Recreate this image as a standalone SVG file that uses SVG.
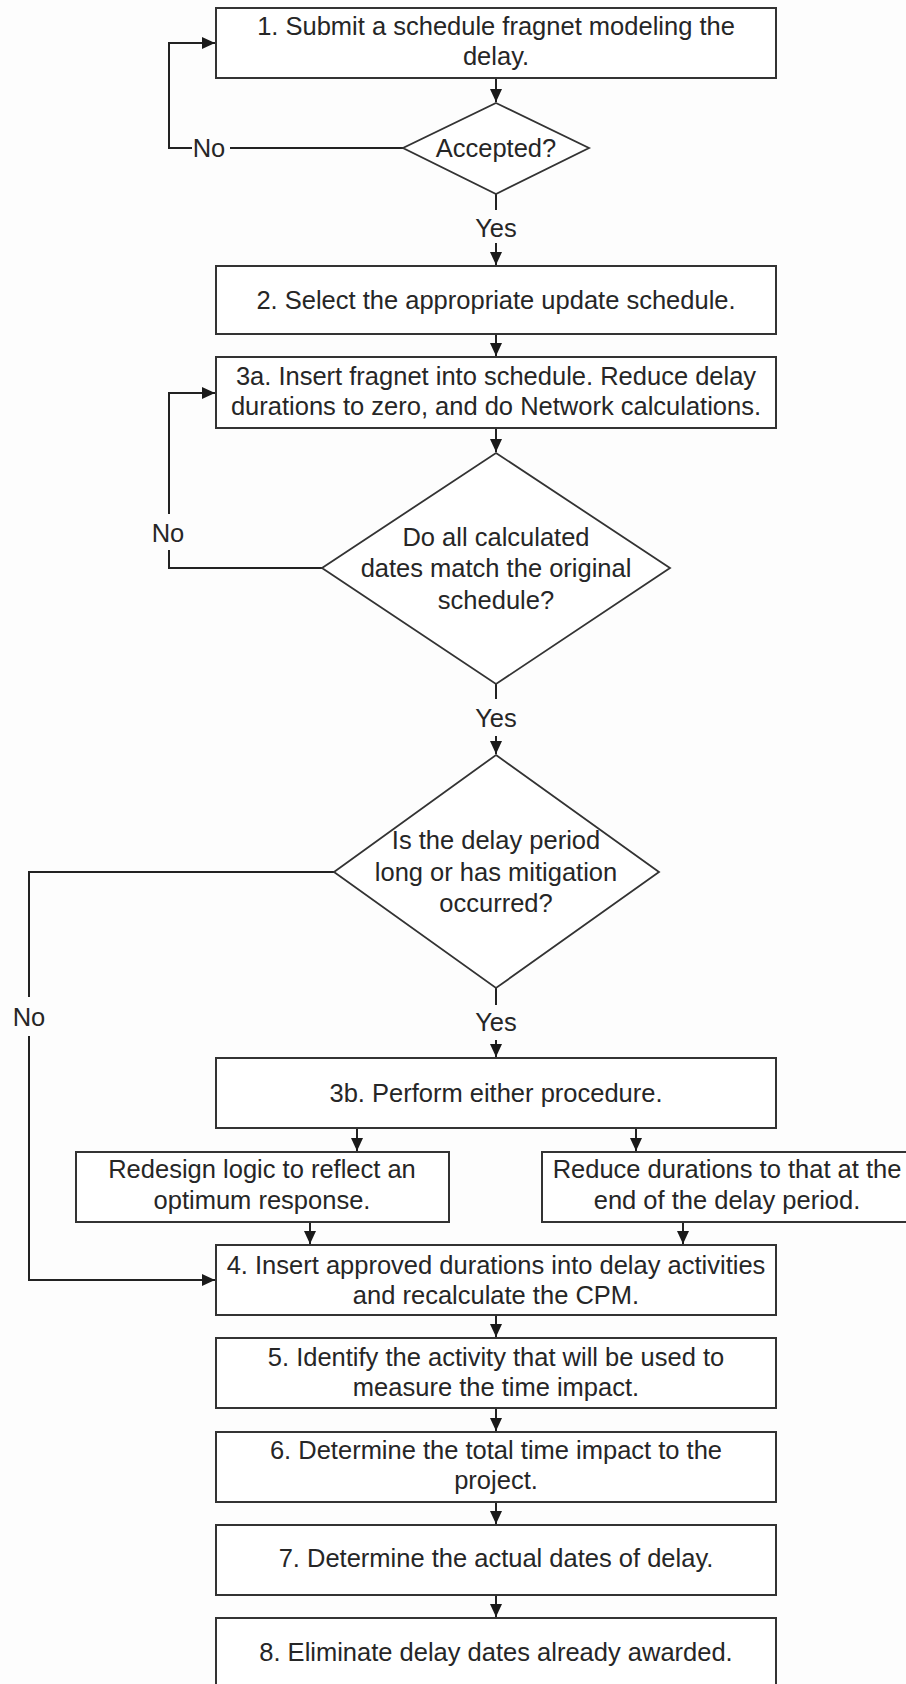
<svg xmlns="http://www.w3.org/2000/svg" width="906" height="1684" viewBox="0 0 906 1684">
<defs>
<marker id="ah" markerUnits="userSpaceOnUse" markerWidth="13" markerHeight="12" refX="13" refY="6" orient="auto">
<path d="M0,0 L13,6 L0,12 z" fill="#1a1a1a"/>
</marker>
<style>
.box{fill:#ffffff;stroke:#333333;stroke-width:2}
.dia{fill:#ffffff;stroke:#333333;stroke-width:1.8}
.t{font-family:"Liberation Sans",Arial,sans-serif;font-size:25.5px;fill:#262626;text-anchor:middle}
.c{fill:none;stroke:#222222;stroke-width:2}
.ca{fill:none;stroke:#222222;stroke-width:2;marker-end:url(#ah)}
</style>
</defs>
<rect x="0" y="0" width="906" height="1684" fill="#fdfdfd"/>

<g id="connectors">
<path class="ca" d="M496,78 V102"/>
<path class="c" d="M403,148 H230"/>
<path class="ca" d="M192,148 H169 V43 H215"/>
<path class="c" d="M496,194 V210"/>
<path class="ca" d="M496,243 V265"/>
<path class="ca" d="M496,334 V356"/>
<path class="ca" d="M496,428 V452"/>
<path class="c" d="M322,568 H169 V550"/>
<path class="ca" d="M169,514 V393 H215"/>
<path class="c" d="M496,684 V699"/>
<path class="ca" d="M496,736 V754"/>
<path class="c" d="M334,872 H29 V997"/>
<path class="ca" d="M29,1036 V1280 H215"/>
<path class="c" d="M496,988 V1005"/>
<path class="ca" d="M496,1040 V1057"/>
<path class="ca" d="M357,1128 V1151"/>
<path class="ca" d="M636,1128 V1151"/>
<path class="ca" d="M310,1222 V1244"/>
<path class="ca" d="M683,1222 V1244"/>
<path class="ca" d="M496,1315 V1337"/>
<path class="ca" d="M496,1408 V1431"/>
<path class="ca" d="M496,1502 V1524"/>
<path class="ca" d="M496,1595 V1617"/>
<text class="t" x="209" y="157">No</text>
<text class="t" x="496" y="237">Yes</text>
<text class="t" x="168" y="542">No</text>
<text class="t" x="496" y="727">Yes</text>
<text class="t" x="29" y="1026">No</text>
<text class="t" x="496" y="1031">Yes</text>
</g>

<g id="n1">
<rect class="box" x="216" y="8" width="560" height="70"/>
<text class="t" x="496" y="35">1. Submit a schedule fragnet modeling the</text>
<text class="t" x="496" y="65">delay.</text>
</g>
<g id="d1">
<polygon class="dia" points="496,103 589,148 496,194 403,148"/>
<text class="t" x="496" y="157">Accepted?</text>
</g>
<g id="n2">
<rect class="box" x="216" y="266" width="560" height="68"/>
<text class="t" x="496" y="309">2. Select the appropriate update schedule.</text>
</g>
<g id="n3a">
<rect class="box" x="216" y="357" width="560" height="71"/>
<text class="t" x="496" y="385">3a. Insert fragnet into schedule. Reduce delay</text>
<text class="t" x="496" y="415">durations to zero, and do Network calculations.</text>
</g>
<g id="d2">
<polygon class="dia" points="496,453 670,568 496,684 322,568"/>
<text class="t" x="496" y="546">Do all calculated</text>
<text class="t" x="496" y="577">dates match the original</text>
<text class="t" x="496" y="609">schedule?</text>
</g>
<g id="d3">
<polygon class="dia" points="496,755 659,872 496,988 334,872"/>
<text class="t" x="496" y="849">Is the delay period</text>
<text class="t" x="496" y="881">long or has mitigation</text>
<text class="t" x="496" y="912">occurred?</text>
</g>
<g id="n3b">
<rect class="box" x="216" y="1058" width="560" height="70"/>
<text class="t" x="496" y="1102">3b. Perform either procedure.</text>
</g>
<g id="n3b1">
<rect class="box" x="76" y="1152" width="373" height="70"/>
<text class="t" x="262" y="1178">Redesign logic to reflect an</text>
<text class="t" x="262" y="1209">optimum response.</text>
</g>
<g id="n3b2">
<rect class="box" x="542" y="1152" width="372" height="70"/>
<text class="t" x="727" y="1178">Reduce durations to that at the</text>
<text class="t" x="727" y="1209">end of the delay period.</text>
</g>
<g id="n4">
<rect class="box" x="216" y="1245" width="560" height="70"/>
<text class="t" x="496" y="1274">4. Insert approved durations into delay activities</text>
<text class="t" x="496" y="1304">and recalculate the CPM.</text>
</g>
<g id="n5">
<rect class="box" x="216" y="1338" width="560" height="70"/>
<text class="t" x="496" y="1366">5. Identify the activity that will be used to</text>
<text class="t" x="496" y="1396">measure the time impact.</text>
</g>
<g id="n6">
<rect class="box" x="216" y="1432" width="560" height="70"/>
<text class="t" x="496" y="1459">6. Determine the total time impact to the</text>
<text class="t" x="496" y="1489">project.</text>
</g>
<g id="n7">
<rect class="box" x="216" y="1525" width="560" height="70"/>
<text class="t" x="496" y="1567">7. Determine the actual dates of delay.</text>
</g>
<g id="n8">
<rect class="box" x="216" y="1618" width="560" height="72"/>
<text class="t" x="496" y="1661">8. Eliminate delay dates already awarded.</text>
</g>
</svg>
